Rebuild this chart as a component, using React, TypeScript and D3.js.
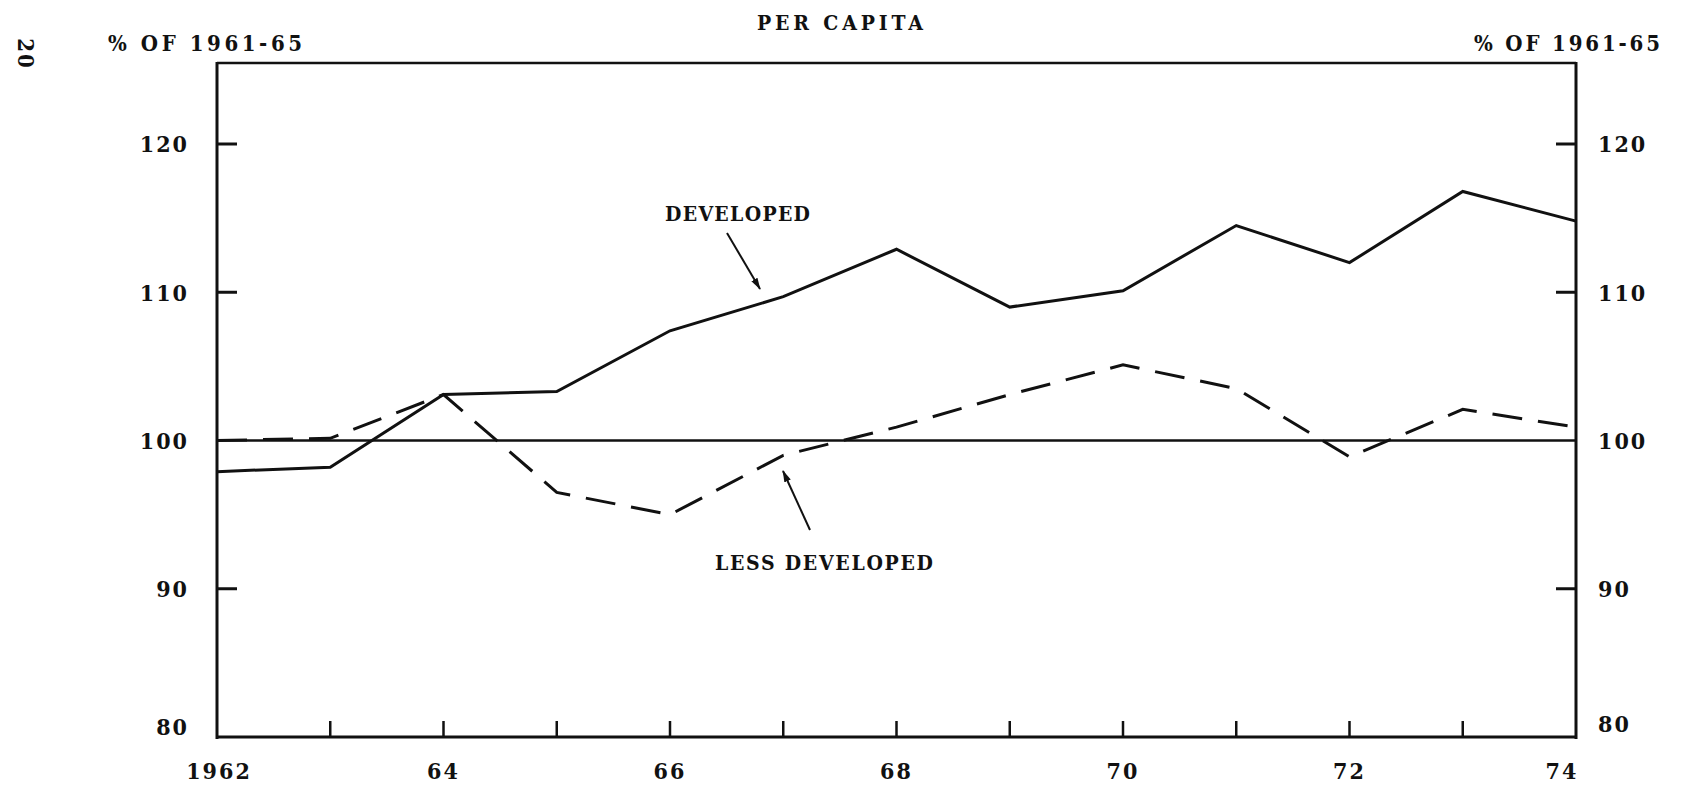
import React from "react";
import * as d3 from "d3";

const years = [1962, 1963, 1964, 1965, 1966, 1967, 1968, 1969, 1970, 1971, 1972, 1973, 1974];
const developed = [97.9, 98.2, 103.1, 103.3, 107.4, 109.7, 112.9, 109.0, 110.1, 114.5, 112.0, 116.8, 114.8];
const lessDeveloped = [100.0, 100.15, 103.1, 96.5, 95.0, 99.0, 100.9, 103.1, 105.1, 103.5, 98.9, 102.1, 100.9];
const yTicks = [80, 90, 100, 110, 120];
const xTickLabels = [
  { year: 1962, label: "1962" },
  { year: 1964, label: "64" },
  { year: 1966, label: "66" },
  { year: 1968, label: "68" },
  { year: 1970, label: "70" },
  { year: 1972, label: "72" },
  { year: 1974, label: "74" },
];
const title = "PER CAPITA";
const axisTitle = "% OF 1961-65";
const pageNumber = "20";

const W = 1690;
const H = 790;
const FONT = "'DejaVu Serif Condensed', 'DejaVu Serif', serif";

export default function App() {
  const x = d3.scaleLinear().domain([1962, 1974]).range([217, 1576]);
  const y = d3.scaleLinear().domain([80, 120]).range([737, 144]);
  const top = 63;
  const bottom = y(80);
  const left = x(1962);
  const right = x(1974);

  const line = d3
    .line<number>()
    .x((_, i) => x(years[i]))
    .y((d) => y(d));

  const txt = {
    fontFamily: FONT,
    fontWeight: 700 as const,
    fill: "#111",
  };

  return (
    <svg
      width={W}
      height={H}
      style={{ position: "absolute", left: 0, top: 0, background: "#fff" }}
    >
      <defs>
        <marker
          id="ah"
          viewBox="0 0 12 10"
          refX="11"
          refY="5"
          markerWidth="12"
          markerHeight="10"
          markerUnits="userSpaceOnUse"
          orient="auto"
        >
          <path d="M0,1.5 L12,5 L0,8.5 Z" fill="#111" />
        </marker>
      </defs>
      <rect x={0} y={0} width={W} height={H} fill="#fff" />

      {/* frame */}
      <line x1={left} x2={right} y1={top} y2={top} stroke="#111" strokeWidth={2.5} />
      <line x1={left} x2={left} y1={top - 1} y2={bottom + 2} stroke="#111" strokeWidth={3} />
      <line x1={right} x2={right} y1={top - 1} y2={bottom + 2} stroke="#111" strokeWidth={3} />
      <line x1={left} x2={right} y1={bottom} y2={bottom} stroke="#111" strokeWidth={3} />

      {/* 100 baseline */}
      <line x1={left} x2={right} y1={y(100)} y2={y(100)} stroke="#111" strokeWidth={2.6} />

      {/* y ticks */}
      {yTicks
        .filter((t) => t !== 80 && t !== 100)
        .map((t) => (
          <g key={"yt" + t}>
            <line x1={left} x2={left + 20} y1={y(t)} y2={y(t)} stroke="#111" strokeWidth={3} />
            <line x1={right - 20} x2={right} y1={y(t)} y2={y(t)} stroke="#111" strokeWidth={3} />
          </g>
        ))}

      {/* y labels */}
      {yTicks.map((t) => (
        <g key={"yl" + t}>
          <text
            x={left - 28}
            y={t === 80 ? y(t) - 10 : y(t)}
            dy="0.36em"
            textAnchor="end"
            fontSize={23}
            letterSpacing={2}
            style={txt}
          >
            {t}
          </text>
          <text
            x={right + 22}
            y={t === 80 ? y(t) - 13 : y(t)}
            dy="0.36em"
            textAnchor="start"
            fontSize={23}
            letterSpacing={2}
            style={txt}
          >
            {t}
          </text>
        </g>
      ))}

      {/* x ticks */}
      {years.slice(1, -1).map((yr) => (
        <line
          key={"xt" + yr}
          x1={x(yr)}
          x2={x(yr)}
          y1={bottom}
          y2={bottom - 16}
          stroke="#111"
          strokeWidth={2.5}
        />
      ))}
      {xTickLabels.map((d) => (
        <text
          key={"xl" + d.year}
          x={d.year === 1974 ? x(d.year) - 14 : x(d.year) + (d.year === 1962 ? 2 : 0)}
          y={771}
          dy="0.36em"
          textAnchor="middle"
          fontSize={23}
          letterSpacing={2}
          style={txt}
        >
          {d.label}
        </text>
      ))}

      {/* series */}
      <path d={line(developed) || ""} fill="none" stroke="#111" strokeWidth={3} strokeLinejoin="miter" />
      <path
        d={line(lessDeveloped) || ""}
        fill="none"
        stroke="#111"
        strokeWidth={3}
        strokeDasharray="30 16"
      />

      {/* titles */}
      <text x={757} y={22} dy="0.36em" fontSize={21} textLength={166} style={txt}>
        {title}
      </text>
      <text x={108} y={43} dy="0.36em" fontSize={22} textLength={194} style={txt}>
        {axisTitle}
      </text>
      <text x={1474} y={43} dy="0.36em" fontSize={22} textLength={186} style={txt}>
        {axisTitle}
      </text>
      <text
        x={26}
        y={54}
        dy="0.36em"
        textAnchor="middle"
        fontSize={22}
        letterSpacing={2}
        style={txt}
        transform="rotate(90 26 54)"
      >
        {pageNumber}
      </text>

      {/* annotations */}
      <text x={665} y={213} dy="0.36em" fontSize={21} textLength={145} style={txt}>
        DEVELOPED
      </text>
      <line x1={727} y1={233} x2={760} y2={289} stroke="#111" strokeWidth={2} markerEnd="url(#ah)" />
      <text x={715} y={562} dy="0.36em" fontSize={21} textLength={218} style={txt}>
        LESS DEVELOPED
      </text>
      <line x1={810} y1={530} x2={783} y2={471} stroke="#111" strokeWidth={2} markerEnd="url(#ah)" />
    </svg>
  );
}
